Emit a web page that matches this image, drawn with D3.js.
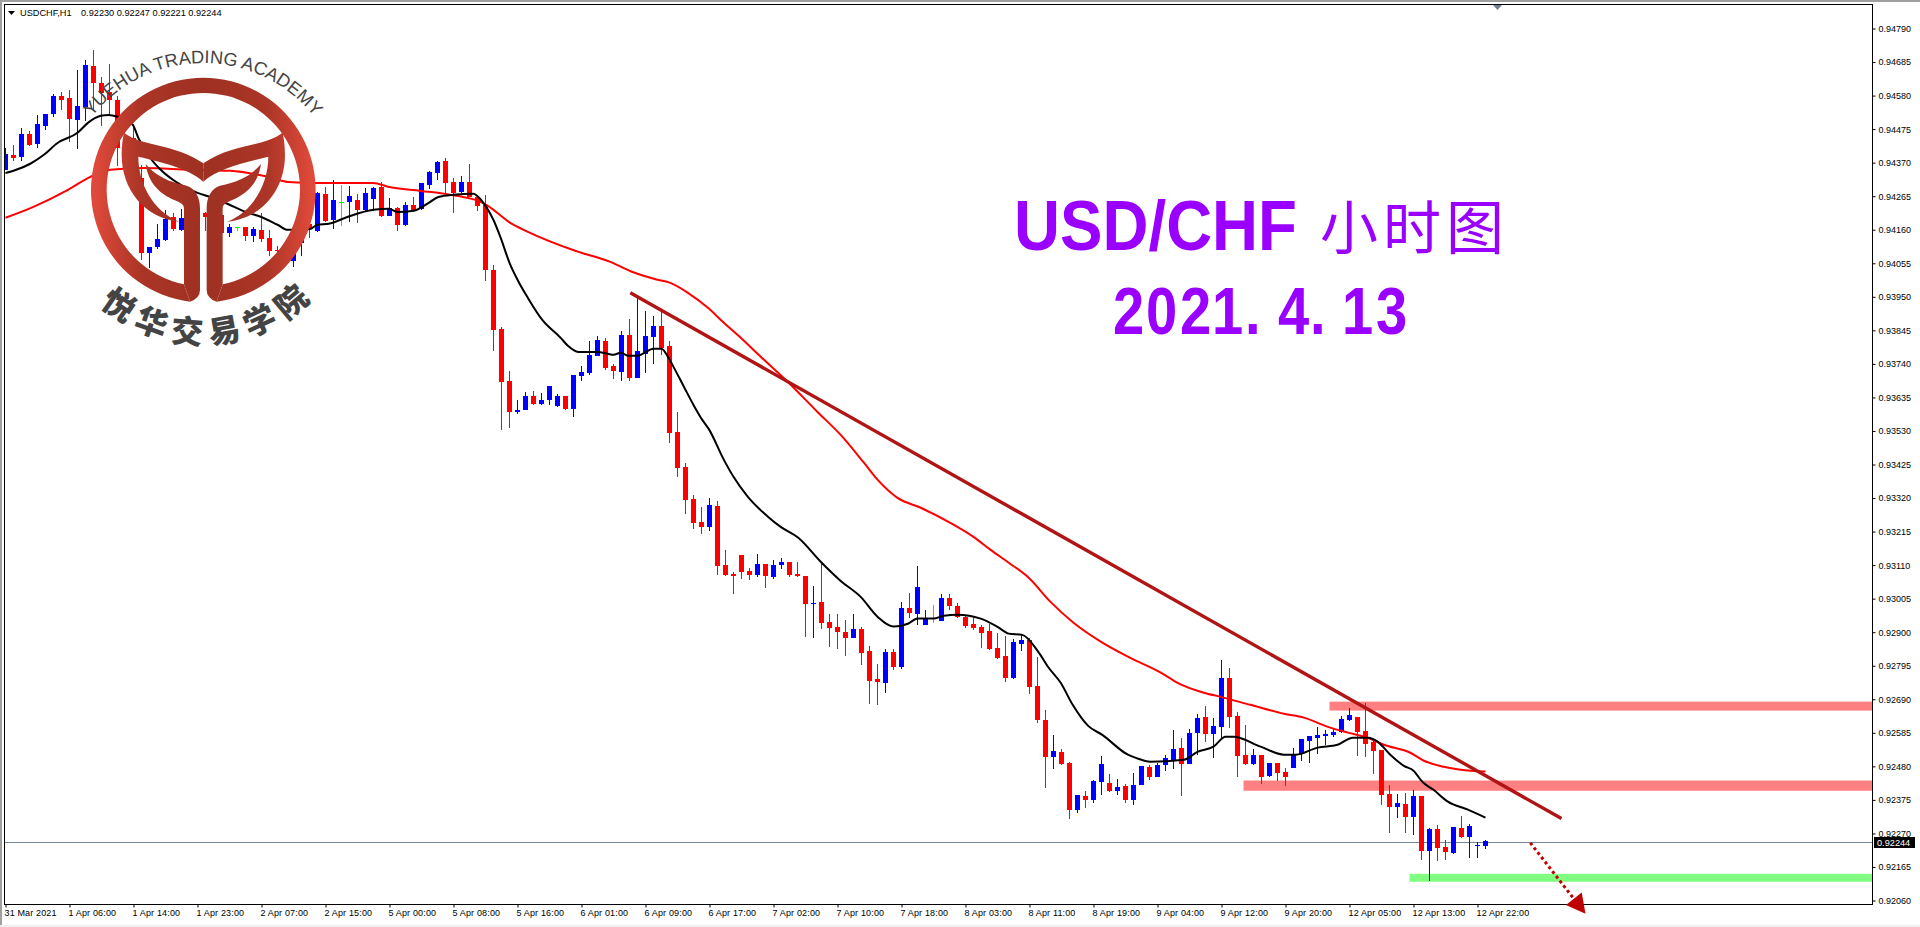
<!DOCTYPE html>
<html><head><meta charset="utf-8">
<script src="https://cdn.jsdelivr.net/npm/d3@7/dist/d3.min.js"></script>
<style>
html,body{margin:0;padding:0;background:#fff;overflow:hidden}
svg{display:block}
text{font-family:"Liberation Sans",Arial,sans-serif}
</style></head><body>
<svg id="c" width="1920" height="927"></svg>
<script>
// All prices are in points: 1 point = 0.00001
const opens=[94346,94393,94387,94459,94427,94484,94521,94578,94571,94502,
94543,94671,94618,94590,94565,94377,94446,94321,94086,94105,
94127,94199,94158,94202,94171,94211,94205,94205,94149,94167,
94167,94139,94158,94133,94096,94089,94061,94117,94177,94155,
94271,94189,94246,94246,94252,94221,94255,94293,94202,94227,
94174,94236,94224,94299,94336,94374,94308,94277,94308,94261,
94236,94033,93848,93685,93588,93595,93639,93613,93626,93607,
93639,93598,93701,93711,93764,93811,93732,93714,93829,93695,
93770,93823,93858,93795,93526,93416,93316,93244,93228,93294,
93110,93081,93141,93091,93078,93113,93072,93110,93119,93081,
93075,92987,92994,92931,92915,92900,92881,92909,92840,92753,
92740,92837,92790,92975,92956,92922,92944,92934,93006,92981,
92947,92925,92915,92903,92850,92825,92756,92862,92875,92731,
92624,92509,92524,92490,92343,92387,92374,92430,92427,92402,
92418,92374,92421,92477,92446,92483,92496,92537,92487,92584,
92634,92581,92603,92756,92637,92515,92487,92515,92449,92490,
92462,92474,92518,92559,92568,92574,92577,92587,92624,92634,
92590,92556,92530,92393,92352,92361,92321,92387,92214,92283,
92227,92208,92286,92258,92230,92230];
const highs=[94415,94424,94477,94468,94518,94521,94584,94590,94596,94659,
94690,94721,94637,94678,94578,94455,94490,94362,94105,94177,
94221,94211,94224,94227,94218,94214,94218,94211,94177,94167,
94167,94167,94211,94158,94108,94102,94102,94183,94189,94277,
94293,94315,94299,94296,94271,94290,94293,94308,94258,94230,
94246,94261,94305,94343,94374,94383,94321,94327,94365,94268,
94268,94049,93854,93717,93626,93651,93654,93648,93670,93645,
93639,93704,93732,93811,93826,93820,93739,93842,93879,93945,
93905,93889,93901,93811,93588,93429,93329,93291,93319,93310,
93157,93088,93141,93100,93144,93113,93125,93131,93119,93119,
93075,93044,93116,92956,92956,92937,92956,92915,92856,92800,
92847,92847,92994,93022,93106,92969,92984,93019,93019,92991,
92953,92950,92922,92925,92897,92887,92878,92890,92881,92822,
92656,92577,92534,92493,92390,92402,92437,92512,92455,92440,
92424,92459,92480,92483,92490,92515,92593,92568,92596,92643,
92668,92631,92812,92787,92650,92609,92534,92515,92490,92490,
92474,92537,92565,92574,92603,92593,92596,92637,92662,92634,
92678,92562,92530,92421,92393,92396,92405,92387,92286,92296,
92249,92290,92324,92299,92243,92247];
const lows=[94346,94374,94374,94421,94415,94471,94512,94534,94434,94412,
94499,94531,94484,94518,94358,94362,94340,94064,94039,94099,
94124,94155,94155,94152,94149,94155,94149,94149,94136,94155,
94124,94120,94120,94077,94080,94058,94042,94077,94133,94152,
94183,94161,94171,94183,94180,94218,94218,94199,94202,94155,
94171,94214,94221,94286,94315,94268,94211,94274,94261,94218,
93998,93779,93532,93538,93582,93595,93610,93610,93610,93604,
93595,93573,93685,93704,93764,93720,93692,93685,93685,93695,
93711,93739,93767,93491,93385,93269,93222,93207,93216,93078,
93075,93019,93066,93063,93072,93038,93066,93097,93072,93072,
92884,92881,92909,92853,92847,92825,92881,92796,92674,92671,
92709,92781,92784,92944,92922,92922,92928,92934,92969,92944,
92912,92906,92850,92844,92815,92743,92753,92840,92706,92615,
92412,92471,92483,92315,92333,92349,92365,92390,92399,92390,
92365,92358,92421,92437,92446,92465,92471,92387,92487,92515,
92556,92505,92568,92599,92446,92483,92483,92424,92446,92434,
92418,92474,92496,92490,92518,92546,92571,92584,92621,92512,
92509,92455,92358,92271,92318,92271,92265,92186,92120,92183,
92186,92205,92255,92192,92192,92221];
const closes=[94396,94383,94459,94424,94490,94521,94578,94565,94505,94546,
94675,94618,94587,94565,94415,94443,94362,94086,94105,94130,
94193,94161,94196,94171,94208,94199,94174,94149,94167,94167,
94139,94161,94130,94092,94092,94070,94086,94171,94161,94274,
94186,94252,94246,94265,94221,94274,94290,94202,94227,94174,
94236,94221,94305,94340,94371,94305,94274,94308,94261,94233,
94033,93845,93682,93588,93595,93639,93613,93626,93670,93639,
93598,93704,93714,93767,93814,93726,93717,93829,93695,93779,
93826,93858,93789,93523,93413,93313,93241,93228,93297,93106,
93078,93075,93088,93078,93113,93075,93110,93119,93078,93075,
92987,92991,92928,92912,92900,92881,92909,92834,92746,92743,
92837,92790,92975,92959,93041,92941,92944,93006,92981,92947,
92919,92912,92897,92847,92818,92756,92869,92875,92728,92624,
92509,92527,92487,92343,92390,92374,92434,92487,92402,92415,
92374,92421,92480,92446,92483,92505,92534,92487,92584,92631,
92581,92606,92756,92634,92512,92487,92515,92446,92490,92459,
92446,92518,92565,92574,92577,92581,92587,92628,92640,92587,
92549,92527,92390,92352,92365,92321,92387,92214,92283,92224,
92211,92290,92258,92293,92233,92244];

// fast moving average, read as (bar position, price) pairs
const maFastBar=[0,1,3.1,4.8,6.5,9,10.3,11.9,12.9,14,15.9,16.6,18.1,19.4,21.5,24,25.6,27.8,30,31.9,34,35.3,36,38.1,39,40.4,42.8,46,47.9,49,51,53.1,54.1,56,58.5,59.1,60,61,61.9,63,64,65.3,67.1,69.4,70.3,71.6,74,75.3,76,76.9,77.9,79,81,82,82.8,83.5,84.8,86,87.1,87.9,89.8,91,92.8,95.3,96.9,99.1,101.9,104.4,106.9,109,111,112.8,114,116,117.3,119,121.9,124,125.4,127.1,129.1,130.4,131.9,133.4,135.3,137.1,140.3,141.3,143.1,147.3,149,151,152.5,153.5,156.9,159.8,161.3,164,166.5,168.4,170.3,171.5,173.1,174.8,176,177.1,178.5,180.3,182.8,185];
const maFast=[94336,94343,94365,94393,94430,94462,94493,94515,94518,94512,94487,94446,94383,94346,94305,94274,94261,94239,94214,94199,94174,94158,94158,94161,94174,94177,94199,94221,94224,94214,94218,94246,94261,94268,94271,94261,94233,94189,94133,94055,94002,93945,93876,93820,93795,93776,93776,93770,93767,93773,93764,93764,93786,93786,93761,93729,93667,93610,93563,93535,93438,93385,93322,93260,93228,93194,93119,93059,93009,92947,92916,92925,92941,92941,92950,92953,92941,92915,92894,92890,92837,92787,92740,92671,92606,92577,92515,92505,92493,92499,92524,92540,92571,92571,92540,92515,92515,92537,92546,92568,92568,92556,92515,92480,92465,92430,92405,92368,92343,92318];
// slow moving average
const maSlowBar=[0,3.5,7.8,10.6,13.1,17.3,23.1,28.1,32.8,35.3,39,42.3,46,47.8,51.9,54.8,57.8,59.4,60.3,63.1,65.3,71.3,75.6,78.3,81.5,83.1,85.3,87.8,89.8,91.9,94.4,97.8,101.5,104.4,107.3,109,111.5,114.4,118.1,121,123.1,125.4,127.9,130.6,133.5,136.9,140.6,144.4,146.5,149.8,151.9,155.6,159.8,162.3,165.3,167.8,170.3,172.3,175.6,177.3,179.8,181.9,185];
const maSlow=[94196,94230,94283,94324,94346,94352,94346,94343,94324,94308,94305,94305,94305,94293,94280,94271,94258,94246,94233,94180,94152,94092,94058,94027,94002,93992,93961,93914,93867,93820,93761,93682,93588,93516,93429,93376,93319,93288,93241,93197,93157,93116,93069,92994,92928,92869,92818,92772,92740,92709,92696,92671,92643,92631,92602,92584,92568,92546,92521,92496,92477,92468,92462];

const priceTicks=[94790,94685,94580,94475,94370,94265,94160,94055,93950,93845,93740,93635,93530,93425,93320,93215,93110,93005,92900,92795,92690,92585,92480,92375,92270,92165,92060];
const timeLabels=["31 Mar 2021","1 Apr 06:00","1 Apr 14:00","1 Apr 23:00","2 Apr 07:00","2 Apr 15:00","5 Apr 00:00","5 Apr 08:00","5 Apr 16:00","6 Apr 01:00","6 Apr 09:00","6 Apr 17:00","7 Apr 02:00","7 Apr 10:00","7 Apr 18:00","8 Apr 03:00","8 Apr 11:00","8 Apr 19:00","9 Apr 04:00","9 Apr 12:00","9 Apr 20:00","12 Apr 05:00","12 Apr 13:00","12 Apr 22:00"];
const barsPerLabel=8;

// annotations
const zoneBars=[165.5,154.75,175.5];
const zoneTop=[92681,92434,92142];
const zoneBottom=[92653,92402,92117];
const zoneColors=["#ff8080","#ff8080","#80ff80"];
const trendBars=[78.1,194.5];
const trendPrices=[93961,92315];
const arrowBars=[190.6,197.5];
const arrowPrices=[92239,92017];
const lastPrice=92244;
const headerText="0.92230 0.92247 0.92221 0.92244";

const L=4,T=4,R=1872,B=904;
const x=d3.scaleLinear().domain([0,185]).range([5.5,1485.5]);
const y=d3.scaleLinear().domain([94790,92060]).range([28,900]);
const svg=d3.select("#c");
const defs=svg.append("defs");
defs.append("clipPath").attr("id","plot").append("rect").attr("x",L).attr("y",T).attr("width",R-L).attr("height",B-T);

// window chrome
svg.append("rect").attr("width",1920).attr("height",2).attr("fill","#a0a0a0");
svg.append("rect").attr("width",2).attr("height",925).attr("fill","#a0a0a0");
svg.append("rect").attr("y",925).attr("width",1920).attr("height",2).attr("fill","#f0f0f0");

// zones (behind candles)
svg.append("g").selectAll("rect").data(zoneBars).join("rect")
  .attr("x",d=>x(d)).attr("width",d=>R+1-x(d))
  .attr("y",(d,i)=>y(zoneTop[i])).attr("height",(d,i)=>y(zoneBottom[i])-y(zoneTop[i]))
  .attr("fill",(d,i)=>zoneColors[i]);

// last price line
const lastY=Math.round(y(lastPrice))+1.5;
svg.append("line").attr("x1",L).attr("x2",R).attr("y1",lastY).attr("y2",lastY)
  .attr("stroke","#778899").attr("stroke-width",1);

const plot=svg.append("g").attr("clip-path","url(#plot)");
const colorOf=i=>closes[i]>opens[i]?"#0000ff":closes[i]<opens[i]?"#ff0000":"#00ff00";
const bars=plot.append("g").attr("shape-rendering","crispEdges").selectAll("g").data(opens).join("g");
bars.append("rect")
  .attr("x",(d,i)=>x(i)-.5).attr("width",1)
  .attr("y",(d,i)=>Math.round(y(highs[i])))
  .attr("height",(d,i)=>Math.max(1,Math.round(y(lows[i]))-Math.round(y(highs[i]))))
  .attr("fill",(d,i)=>colorOf(i));
bars.append("rect")
  .attr("x",(d,i)=>x(i)-2.5).attr("width",5)
  .attr("y",(d,i)=>Math.round(y(Math.max(opens[i],closes[i]))))
  .attr("height",(d,i)=>Math.max(1,Math.round(y(Math.min(opens[i],closes[i])))-Math.round(y(Math.max(opens[i],closes[i])))))
  .attr("fill",(d,i)=>colorOf(i));

const ma=d3.line().x(d=>x(d[0])).y(d=>y(d[1])).curve(d3.curveMonotoneX);
plot.append("path").attr("d",ma(maSlowBar.map((b,i)=>[b,maSlow[i]]))).attr("fill","none").attr("stroke","#ff0000").attr("stroke-width",2);
plot.append("path").attr("d",ma(maFastBar.map((b,i)=>[b,maFast[i]]))).attr("fill","none").attr("stroke","#000").attr("stroke-width",2);

// logo
const grad=defs.append("linearGradient").attr("id","lg").attr("gradientUnits","userSpaceOnUse").attr("x1",33).attr("x2",707).attr("y1",0).attr("y2",0);
[[0,"#e34b3c"],[.22,"#ab3526"],[.5,"#9e3122"],[.78,"#ab3526"],[1,"#e34b3c"]].forEach(s=>grad.append("stop").attr("offset",s[0]).attr("stop-color",s[1]));
const logo=svg.append("g").attr("transform","translate(80,40) scale(0.3333)");
logo.append("path").attr("fill","url(#lg)").attr("d","M330,785 A337,337 0 1 1 410,785 L428,733 A290,290 0 1 0 312,733 Z");
const half="M132,278 C190,322 285,310 370,370 L370,425 C325,385 250,368 175,350 C175,425 215,512 298,545 C195,535 125,450 125,345 C125,320 128,295 132,278 Z "+
 "M197,372 C230,410 265,425 320,437 C345,445 360,470 360,505 L360,750 Q360,775 330,785 L312,733 L312,505 C312,495 305,490 295,485 C240,465 205,430 197,372 Z";
logo.append("path").attr("fill","url(#lg)").attr("d",half);
logo.append("path").attr("fill","url(#lg)").attr("d",half).attr("transform","translate(740,0) scale(-1,1)");
defs.append("path").attr("id","arcTop").attr("d","M61,205 A142,142 0 0 1 345,205");
defs.append("path").attr("id","arcBot").attr("d","M49,190 A154,154 0 0 0 357,190");
const t1=svg.append("text").attr("font-size",18.2).attr("fill","#444");
t1.append("textPath").attr("href","#arcTop").attr("startOffset","50%").attr("text-anchor","middle").text("YUEHUA TRADING ACADEMY");
const t2=svg.append("text").attr("font-size",32).attr("font-weight",900).attr("fill","#444").style("font-family",'"Noto Sans CJK SC"').attr("letter-spacing",8);
t2.append("textPath").attr("href","#arcBot").attr("startOffset","51.5%").attr("text-anchor","middle").text("悦华交易学院");

// trend line
svg.append("line").attr("x1",x(trendBars[0])).attr("y1",y(trendPrices[0])).attr("x2",x(trendBars[1])).attr("y2",y(trendPrices[1]))
  .attr("stroke","#b01414").attr("stroke-width",3.4);

// frame
svg.append("rect").attr("x",L+.5).attr("y",T+.5).attr("width",R-L).attr("height",B-T).attr("fill","none").attr("stroke","#000");

// axes
const yAxis=d3.axisRight(y).tickValues(priceTicks).tickSize(3).tickPadding(3).tickFormat(v=>d3.format(".5f")(v/1e5));
const ya=svg.append("g").attr("transform",`translate(${R+.5},0.5)`).call(yAxis);
ya.select(".domain").remove();
ya.selectAll("text").attr("font-size",9).attr("fill","#000").attr("font-family","Liberation Sans");
const xAxis=d3.axisBottom(x).tickValues(timeLabels.map((d,i)=>i*barsPerLabel)).tickSize(3).tickPadding(2).tickFormat((v,i)=>timeLabels[i]);
const xa=svg.append("g").attr("transform",`translate(0,${B+.5})`).call(xAxis);
xa.select(".domain").remove();
xa.selectAll("text").attr("font-size",9).attr("fill","#000").attr("text-anchor","start").attr("dx",-1.5).attr("letter-spacing",.15).attr("font-family","Liberation Sans");

// last price label
svg.append("rect").attr("x",R+2).attr("y",837).attr("width",41).attr("height",11).attr("fill","#000");
svg.append("text").attr("x",R+5).attr("y",846).attr("font-size",9.2).attr("fill","#fff").text(d3.format(".5f")(lastPrice/1e5));

// dotted arrow
const ax0=x(arrowBars[0]),ay0=y(arrowPrices[0]),ax1=x(arrowBars[1]),ay1=y(arrowPrices[1]);
const ang=Math.atan2(ay1-ay0,ax1-ax0),hl=19,hw=10;
const bx=ax1-hl*Math.cos(ang),by=ay1-hl*Math.sin(ang);
svg.append("line").attr("x1",ax0).attr("y1",ay0).attr("x2",bx).attr("y2",by).attr("stroke","#c00000").attr("stroke-width",3).attr("stroke-dasharray","3 3");
svg.append("polygon").attr("fill","#bf0000").attr("points",[[ax1,ay1],[bx-hw*Math.sin(ang),by+hw*Math.cos(ang)],[bx+hw*Math.sin(ang),by-hw*Math.cos(ang)]].join(" "));

// header
svg.append("path").attr("d","M8,11 L15,11 L11.5,15 Z").attr("fill","#000");
svg.append("text").attr("x",20).attr("y",16).attr("font-size",9.2).attr("fill","#000").text("USDCHF,H1");
svg.append("text").attr("x",81).attr("y",16).attr("font-size",9.2).attr("fill","#000").text(headerText);
svg.append("path").attr("d","M1493,5 L1502,5 L1497.5,10 Z").attr("fill","#708090");

// title
const purple="#9900ff";
svg.append("text").attr("x",1014).attr("y",250).attr("font-size",71).attr("font-weight",700).attr("fill",purple)
  .attr("textLength",283).attr("lengthAdjust","spacingAndGlyphs").text("USD/CHF");
svg.append("text").attr("x",1320).attr("y",249).attr("font-size",58).attr("letter-spacing",5).attr("fill",purple)
  .style("font-family",'"Noto Sans CJK SC"').text("小时图");
const sx=.85;
const dateX=[1113,1146,1180,1212,1245,1278,1310,1342,1376];
svg.append("text").attr("transform",`scale(${sx},1)`).attr("x",dateX.map(v=>v/sx).join(" ")).attr("y",334)
  .attr("font-size",66).attr("font-weight",700).attr("fill",purple).text("2021.4.13");
</script>
</body></html>
